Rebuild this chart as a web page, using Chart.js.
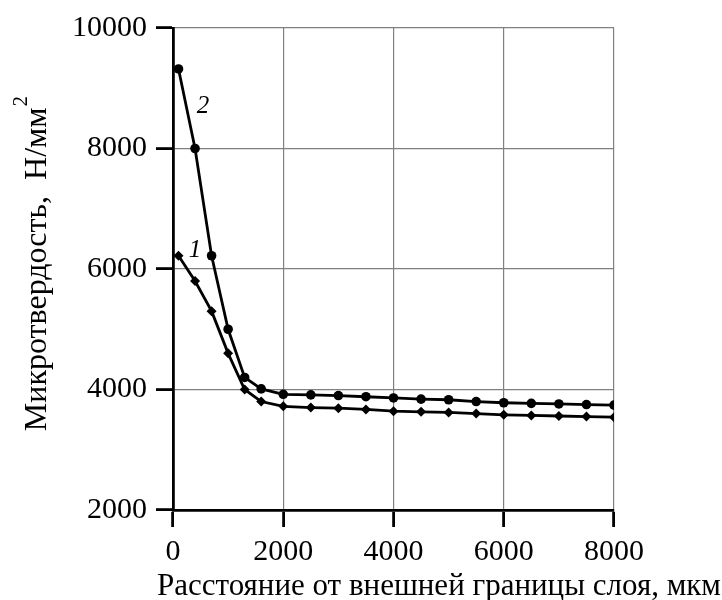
<!DOCTYPE html>
<html>
<head>
<meta charset="utf-8">
<script src="https://cdn.jsdelivr.net/npm/chart.js@4.4.4/dist/chart.umd.min.js"></script>
<style>
  html, body { margin: 0; padding: 0; background: #fff; }
  #wrap { width: 722px; height: 600px; }
</style>
</head>
<body>
<div id="wrap"><canvas id="chart" width="722" height="600"></canvas></div>
<script>
// distance from outer border of layer, um
const distances = [100, 400, 700, 1000, 1300, 1600, 2000, 2500, 3000, 3500, 4000,
  4500, 5000, 5500, 6000, 6500, 7000, 7500, 8000];
// curve 1 (diamonds)
const hardness1 = [6220, 5800, 5300, 4600, 4000, 3800, 3720, 3700, 3690, 3670, 3640,
  3630, 3620, 3600, 3580, 3570, 3560, 3550, 3540];
// curve 2 (circles)
const hardness2 = [9320, 8000, 6220, 5000, 4200, 4010, 3920, 3910, 3900, 3880, 3860,
  3840, 3830, 3800, 3780, 3770, 3760, 3750, 3740];

const xTicks = [0, 2000, 4000, 6000, 8000];
const yTicks = [2000, 4000, 6000, 8000, 10000];

const xTitle = 'Расстояние от внешней границы слоя, мкм';
const yTitle = 'Микротвердость,  Н/мм';

// curve numbers, placed in data coords
const curveLabels = [
  { text: '2', x: 545, y: 8700 },
  { text: '1', x: 400, y: 6310 }
];

const FONT = '"Liberation Serif", "Times New Roman", serif';

function toPoints(xs, ys) {
  return xs.map((x, i) => ({ x: x, y: ys[i] }));
}

const titlesPlugin = {
  id: 'titles',
  afterDraw(chart) {
    const ctx = chart.ctx;
    const xs = chart.scales.x, ys = chart.scales.y;
    ctx.save();
    ctx.fillStyle = '#000';

    // x title
    ctx.font = '31px ' + FONT;
    ctx.textAlign = 'center';
    ctx.textBaseline = 'alphabetic';
    ctx.fillText(xTitle, 439, 595);

    // y title, rotated, with superscript 2
    ctx.translate(46, 264);
    ctx.rotate(-Math.PI / 2);
    ctx.font = '32px ' + FONT;
    const w = ctx.measureText(yTitle).width;
    ctx.font = '21px ' + FONT;
    const w2 = ctx.measureText('2').width;
    const start = -(w + w2) / 2;
    ctx.textAlign = 'left';
    ctx.font = '32px ' + FONT;
    ctx.fillText(yTitle, start, 0);
    ctx.font = '21px ' + FONT;
    ctx.fillText('2', start + w + 1, -19);
    ctx.restore();

    // curve numbers
    ctx.save();
    ctx.font = 'italic 25px ' + FONT;
    ctx.textAlign = 'center';
    ctx.textBaseline = 'middle';
    ctx.fillStyle = '#000';
    curveLabels.forEach(l => {
      ctx.fillText(l.text, xs.getPixelForValue(l.x), ys.getPixelForValue(l.y));
    });
    ctx.restore();
  }
};

const data = {
  datasets: [{
    label: '1',
    data: toPoints(distances, hardness1),
    borderColor: '#000',
    backgroundColor: '#000',
    borderWidth: 2.8,
    pointStyle: 'rectRot',
    pointRadius: 5,
    pointBorderWidth: 0,
    showLine: true,
    tension: 0
  }, {
    label: '2',
    data: toPoints(distances, hardness2),
    borderColor: '#000',
    backgroundColor: '#000',
    borderWidth: 2.8,
    pointStyle: 'circle',
    pointRadius: 4.8,
    pointBorderWidth: 0,
    showLine: true,
    tension: 0
  }]
};

const gridOpts = { color: '#808080', lineWidth: 1.2, tickColor: '#000', tickWidth: 2.8, tickLength: 17, drawTicks: true };

const options = {
  responsive: false,
  animation: false,
  layout: { padding: { left: 0, right: 108, top: 28, bottom: 0 } },
  plugins: { legend: { display: false }, tooltip: { enabled: false } },
  scales: {
    x: {
      type: 'linear',
      min: 0, max: 8000,
      afterBuildTicks: s => { s.ticks = xTicks.map(v => ({ value: v })); },
      afterFit: s => { s.height = 90; },
      grid: gridOpts,
      border: { color: '#000', width: 2.8 },
      ticks: { color: '#000', font: { family: FONT, size: 30 }, padding: 7, maxRotation: 0,
        callback: v => String(v) }
    },
    y: {
      type: 'linear',
      min: 2000, max: 10000,
      afterBuildTicks: s => { s.ticks = yTicks.map(v => ({ value: v })); },
      afterFit: s => { s.width = 173; },
      grid: gridOpts,
      border: { color: '#000', width: 2.8 },
      ticks: { color: '#000', font: { family: FONT, size: 30 }, padding: 9,
        callback: v => String(v) }
    }
  }
};

new Chart(document.getElementById('chart'), { type: 'scatter', data, options, plugins: [titlesPlugin] });
</script>
</body>
</html>
